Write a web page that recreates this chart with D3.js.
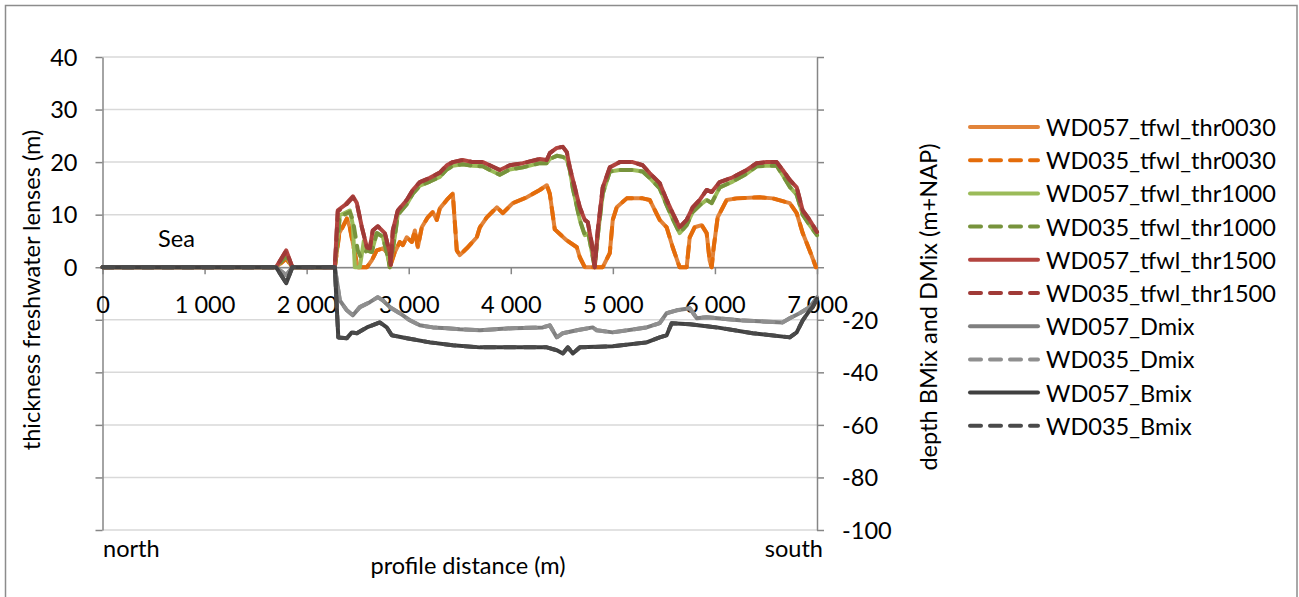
<!DOCTYPE html>
<html><head><meta charset="utf-8">
<script src="https://cdn.jsdelivr.net/npm/d3@7/dist/d3.min.js"></script>
<style>body{margin:0;background:#fff}</style></head>
<body><svg id="c" width="1299" height="597"></svg>
<script>
// ---------- DATA ----------
const xTicks = [0,1000,2000,3000,4000,5000,6000,7000];
const xTickLabels = ["0","1 000","2 000","3 000","4 000","5 000","6 000","7 000"];
const leftTicks = [-50,-40,-30,-20,-10,0,10,20,30,40];
const leftTickLabels = ["","","","","","0","10","20","30","40"];
const rightTicks = [-100,-80,-60,-40,-20,0,20,40,60,80];
const rightTickLabels = ["-100","-80","-60","-40","-20","","","","",""];
const seriesNames = ["WD057_tfwl_thr0030","WD035_tfwl_thr0030","WD057_tfwl_thr1000","WD035_tfwl_thr1000","WD057_tfwl_thr1500","WD035_tfwl_thr1500","WD057_Dmix","WD035_Dmix","WD057_Bmix","WD035_Bmix"];

// [distance (m), value]
const WD057_thr0030 = [[0,0],[1700,0],[1800,1.7],[1860,0],[2276,0],[2320,6.5],[2394,9.3],[2423,7.6],[2472,2.7],[2501,0],[2590,0],[2638,1.3],[2687,3.2],[2746,3.6],[2795,2.7],[2815,0],[2864,2.9],[2913,4.8],[2942,4.2],[2981,5.7],[3031,4.8],[3060,7],[3089,3.8],[3128,7.6],[3187,9.5],[3236,10.5],[3275,9],[3305,11.2],[3373,12.8],[3432,14],[3471,3.2],[3500,2.3],[3569,3.6],[3667,5.7],[3697,7.6],[3765,9.5],[3863,11.4],[3922,10.3],[4020,12.2],[4157,13.3],[4284,14.7],[4353,15.6],[4382,14],[4431,7.2],[4549,5.1],[4647,3.8],[4676,1.9],[4725,0],[4901,0],[4970,2.7],[4999,9],[5038,11.4],[5136,13.1],[5292,13.1],[5361,12.8],[5459,9],[5527,7.6],[5586,3.8],[5654,0],[5723,0],[5753,5.7],[5801,7.6],[5870,8],[5919,6.5],[5948,1.3],[5968,0],[5988,3.8],[6027,9.5],[6115,12.8],[6213,13.1],[6439,13.3],[6566,13.1],[6733,12.2],[6801,10.3],[6860,6.5],[6928,3.2],[6990,0]];
const WD035_thr0030 = [[0,0],[1700,0],[1800,1.6],[1860,0],[2276,0],[2320,6.3],[2394,9.2],[2423,7.5],[2472,2.6],[2501,0],[2590,0],[2638,1.3],[2687,3.2],[2746,3.6],[2795,2.7],[2815,0],[2864,2.9],[2913,4.8],[2942,4.2],[2981,5.7],[3031,4.8],[3060,7],[3089,3.8],[3128,7.6],[3187,9.5],[3236,10.5],[3275,9],[3305,11.2],[3373,12.8],[3432,14],[3471,3.2],[3500,2.3],[3569,3.6],[3667,5.7],[3697,7.6],[3765,9.5],[3863,11.4],[3922,10.3],[4020,12.2],[4157,13.3],[4284,14.7],[4353,15.6],[4382,14],[4431,7.2],[4549,5.1],[4647,3.8],[4676,1.9],[4725,0],[4901,0],[4970,2.7],[4999,9],[5038,11.4],[5136,13.1],[5292,13.1],[5361,12.8],[5459,9],[5527,7.6],[5586,3.8],[5654,0],[5723,0],[5753,5.7],[5801,7.6],[5870,8],[5919,6.5],[5948,1.3],[5968,0],[5988,3.8],[6027,9.5],[6115,12.8],[6213,13.1],[6439,13.3],[6566,13.1],[6733,12.2],[6801,10.3],[6860,6.5],[6928,3.2],[6990,0]];
const WD057_thr1000 = [[0,0],[1700,0],[1800,2.2],[1860,0],[2276,0],[2325,9.9],[2423,10.8],[2453,8],[2472,0],[2521,0],[2560,5],[2590,3.2],[2638,2.9],[2687,6.5],[2746,5.8],[2795,2],[2815,0],[2864,5.8],[2893,10],[2981,12],[3040,14],[3109,15.5],[3207,16.3],[3305,17.2],[3373,18.6],[3432,19.3],[3530,19.6],[3628,19.3],[3726,19.2],[3794,18.5],[3892,17.6],[3990,18.6],[4118,19],[4284,19.8],[4353,19.8],[4382,20.6],[4451,21.2],[4510,21],[4549,20.5],[4578,18.5],[4608,15],[4676,9],[4725,6.1],[4760,6.5],[4793,3],[4822,0],[4852,6],[4901,14],[4970,18.2],[5067,18.5],[5194,18.5],[5292,18.2],[5361,17],[5459,15],[5527,11.8],[5586,9.2],[5654,6.5],[5723,8],[5782,10.5],[5851,11.8],[5919,12.8],[5968,12.2],[6047,15.2],[6174,16.3],[6311,17.8],[6409,19.2],[6507,19.3],[6605,19.3],[6664,17.5],[6733,15.3],[6801,13.8],[6860,10],[6928,8],[7000,6.1]];
const WD035_thr1000 = [[0,0],[1700,0],[1800,2.1],[1860,0],[2276,0],[2325,9.6],[2423,10.5],[2453,9],[2501,3.2],[2530,1.9],[2590,3.2],[2638,2.9],[2687,6.5],[2746,5.8],[2795,2],[2815,0],[2864,5.8],[2893,10],[2981,12],[3040,14],[3109,15.5],[3207,16.3],[3305,17.2],[3373,18.6],[3432,19.3],[3530,19.6],[3628,19.3],[3726,19.2],[3794,18.5],[3892,17.6],[3990,18.6],[4118,19],[4284,19.8],[4353,19.8],[4382,20.6],[4451,21.2],[4510,21],[4549,20.5],[4578,18.5],[4608,15],[4676,9],[4725,6.1],[4760,6.5],[4793,3],[4822,0],[4852,6],[4901,14],[4970,18.2],[5067,18.5],[5194,18.5],[5292,18.2],[5361,17],[5459,15],[5527,11.8],[5586,9.2],[5654,6.5],[5723,8],[5782,10.5],[5851,11.8],[5919,12.8],[5968,12.2],[6047,15.2],[6174,16.3],[6311,17.8],[6409,19.2],[6507,19.3],[6605,19.3],[6664,17.5],[6733,15.3],[6801,13.8],[6860,10],[6928,8],[7000,6.1]];
const WD057_thr1500 = [[0,0],[1700,0],[1800,3.2],[1860,0],[2276,0],[2305,10.8],[2374,11.8],[2453,13.5],[2492,12.2],[2541,7.6],[2590,3.8],[2619,3.6],[2648,7],[2697,7.8],[2766,6.5],[2815,2.7],[2824,0.4],[2844,7],[2893,10.8],[2981,12.8],[3040,14.7],[3109,16.2],[3207,17],[3305,18],[3373,19.4],[3432,20],[3530,20.4],[3628,20],[3726,20],[3794,19.4],[3892,18.5],[3990,19.4],[4118,19.8],[4284,20.6],[4353,20.4],[4382,21.7],[4451,22.7],[4510,22.9],[4549,21.9],[4578,19],[4627,15.2],[4676,11.4],[4725,9],[4754,8.6],[4793,4.6],[4822,0],[4852,7],[4901,15.2],[4970,19],[5067,20],[5194,20],[5292,19.4],[5361,17.9],[5459,16],[5527,12.8],[5586,10.3],[5654,7.6],[5723,9],[5782,11.4],[5851,12.8],[5919,14.7],[5968,14.3],[6047,16.2],[6174,17.1],[6311,18.5],[6409,19.8],[6507,20],[6605,20],[6664,18.5],[6733,16.6],[6801,15.2],[6860,10.8],[6928,9],[7000,6.7]];
const WD035_thr1500 = [[0,0],[1700,0],[1800,3.1],[1860,0],[2276,0],[2305,10.6],[2374,11.6],[2453,13.3],[2492,12.1],[2541,7.6],[2590,3.8],[2619,3.6],[2648,7],[2697,7.8],[2766,6.5],[2815,2.7],[2824,0.4],[2844,7],[2893,10.8],[2981,12.8],[3040,14.7],[3109,16.2],[3207,17],[3305,18],[3373,19.4],[3432,20],[3530,20.4],[3628,20],[3726,20],[3794,19.4],[3892,18.5],[3990,19.4],[4118,19.8],[4284,20.6],[4353,20.4],[4382,21.7],[4451,22.7],[4510,22.9],[4549,21.9],[4578,19],[4627,15.2],[4676,11.4],[4725,9],[4754,8.6],[4793,4.6],[4822,0],[4852,7],[4901,15.2],[4970,19],[5067,20],[5194,20],[5292,19.4],[5361,17.9],[5459,16],[5527,12.8],[5586,10.3],[5654,7.6],[5723,9],[5782,11.4],[5851,12.8],[5919,14.7],[5968,14.3],[6047,16.2],[6174,17.1],[6311,18.5],[6409,19.8],[6507,20],[6605,20],[6664,18.5],[6733,16.6],[6801,15.2],[6860,10.8],[6928,9],[7000,6.7]];
const WD057_Dmix = [[0,0],[1700,0],[1800,-3],[1860,0],[2276,0],[2325,-12.6],[2394,-16.4],[2453,-18.3],[2521,-15.2],[2619,-13.3],[2697,-11.4],[2746,-12.6],[2815,-15.2],[2913,-17.5],[3011,-20.2],[3109,-22.1],[3236,-22.9],[3373,-23.2],[3500,-23.6],[3697,-24],[4020,-23.2],[4314,-22.9],[4382,-22.1],[4451,-26.7],[4510,-25.1],[4647,-24],[4803,-22.9],[4842,-24],[4999,-24.8],[5331,-22.9],[5459,-21.3],[5527,-17.5],[5625,-16.4],[5753,-15.6],[5821,-19.4],[5919,-19],[6243,-20.2],[6664,-21],[6733,-19.4],[6830,-17.5],[6928,-15.2],[7000,-11.5]];
const WD035_Dmix = [[0,0],[1700,0],[1800,-3],[1860,0],[2276,0],[2325,-12.6],[2394,-16.4],[2453,-18.3],[2521,-15.2],[2619,-13.3],[2697,-11.4],[2746,-12.6],[2815,-15.2],[2913,-17.5],[3011,-20.2],[3109,-22.1],[3236,-22.9],[3373,-23.2],[3500,-23.6],[3697,-24],[4020,-23.2],[4314,-22.9],[4382,-22.1],[4451,-26.7],[4510,-25.1],[4647,-24],[4803,-22.9],[4842,-24],[4999,-24.8],[5331,-22.9],[5459,-21.3],[5527,-17.5],[5625,-16.4],[5753,-15.6],[5821,-19.4],[5919,-19],[6243,-20.2],[6664,-21],[6733,-19.4],[6830,-17.5],[6928,-15.2],[7000,-11.5]];
const WD057_Bmix = [[0,0],[1700,0],[1800,-6.1],[1860,0],[2276,0],[2310,-26.7],[2394,-27],[2443,-24.8],[2492,-25.1],[2590,-22.9],[2717,-21],[2785,-22.9],[2834,-25.9],[2981,-27],[3207,-28.6],[3432,-29.7],[3697,-30.5],[4353,-30.5],[4451,-31.6],[4510,-32.8],[4559,-30.5],[4608,-32.8],[4676,-30.5],[4999,-30.1],[5331,-28.6],[5459,-26.7],[5527,-25.9],[5576,-21.3],[5753,-21.7],[6017,-22.9],[6370,-25.1],[6733,-26.7],[6801,-24.8],[6860,-20.2],[6928,-16.4],[6958,-15.2],[7000,-12]];
const WD035_Bmix = [[0,0],[1700,0],[1800,-6],[1860,0],[2276,0],[2310,-26.7],[2394,-27],[2443,-24.8],[2492,-25.1],[2590,-22.9],[2717,-21],[2785,-22.9],[2834,-25.9],[2981,-27],[3207,-28.6],[3432,-29.7],[3697,-30.5],[4353,-30.5],[4451,-31.6],[4510,-32.8],[4559,-30.5],[4608,-32.8],[4676,-30.5],[4999,-30.1],[5331,-28.6],[5459,-26.7],[5527,-25.9],[5576,-21.3],[5753,-21.7],[6017,-22.9],[6370,-25.1],[6733,-26.7],[6801,-24.8],[6860,-20.2],[6928,-16.4],[6958,-15.2],[7000,-12]];

const seriesData = [WD057_thr0030,WD035_thr0030,WD057_thr1000,WD035_thr1000,WD057_thr1500,WD035_thr1500,WD057_Dmix,WD035_Dmix,WD057_Bmix,WD035_Bmix];
const seriesAxis = ["L","L","L","L","L","L","R","R","R","R"];
const seriesColor = ["#E2843A","#E46C0A","#9BBB59","#77933C","#B3443F","#A03A37","#7F7F7F","#8F8F8F","#404040","#4A4A4A"];
const seriesDashed = [false,true,false,true,false,true,false,true,false,true];

// ---------- DRAW ----------
const FONT = "Lato, 'Open Sans', sans-serif";
const svg = d3.select("#c");
// outer frame
svg.append("rect").attr("x",5.5).attr("y",5.5).attr("width",1291.5).attr("height",600)
  .attr("fill","#fff").attr("stroke","#8c8c8c").attr("stroke-width",1.5);

// fit font size so legend text width matches the reference (~230px)
const probe = svg.append("text").attr("font-family",FONT).attr("font-size",20).text("WD057_tfwl_thr0030");
const w20 = probe.node().getComputedTextLength(); probe.remove();
const FS = 20*230/w20;

const x = d3.scaleLinear([0,7000],[102.5,817]);
const yL = d3.scaleLinear([-50,40],[530,57]);
const yR = d3.scaleLinear([-100,80],[530,57]);

// gridlines
svg.append("g").selectAll("line").data(leftTicks).join("line")
  .attr("x1",x(0)).attr("x2",x(7000)).attr("y1",d=>yL(d)).attr("y2",d=>yL(d))
  .attr("stroke","#d9d9d9").attr("stroke-width",1.5);

function styleAxis(g){
  g.select(".domain").attr("stroke","#868686").attr("stroke-width",1.5);
  g.selectAll(".tick line").attr("stroke","#868686").attr("stroke-width",1.5);
  g.selectAll("text").attr("font-family",FONT).attr("font-size",FS).attr("fill","#000");
}
const axL = svg.append("g").attr("transform",`translate(${x(0)},0)`)
  .call(d3.axisLeft(yL).tickValues(leftTicks).tickFormat((d,i)=>leftTickLabels[i]).tickSize(7).tickSizeOuter(0).tickPadding(18));
styleAxis(axL);
const axR = svg.append("g").attr("transform",`translate(${x(7000)},0)`)
  .call(d3.axisRight(yR).tickValues(rightTicks).tickFormat((d,i)=>rightTickLabels[i]).tickSize(7).tickSizeOuter(0).tickPadding(18));
styleAxis(axR);
axL.selectAll("text").attr("dy","0.35em");
axR.selectAll("text").attr("dy","0.35em");
const axX = svg.append("g").attr("transform",`translate(0,${yL(0)})`)
  .call(d3.axisBottom(x).tickValues(xTicks).tickFormat((d,i)=>xTickLabels[i]).tickSize(7).tickSizeOuter(0).tickPadding(22));
styleAxis(axX);

// series
seriesData.forEach((data,i)=>{
  const y = seriesAxis[i]==="L"?yL:yR;
  const line = d3.line().x(d=>x(d[0])).y(d=>y(d[1])).curve(d3.curveLinear);
  svg.append("path").datum(data).attr("d",line)
    .attr("fill","none").attr("stroke",seriesColor[i]).attr("stroke-width",4)
    .attr("stroke-linejoin","round").attr("stroke-linecap","round")
    .attr("stroke-dasharray",seriesDashed[i]?"11 9":null);
});

// text labels
function txt(t,xx,yy,anchor,rot){
  const e = svg.append("text").attr("font-family",FONT).attr("font-size",FS).attr("fill","#000")
    .attr("text-anchor",anchor||"start").attr("dominant-baseline","central").text(t);
  if(rot) e.attr("transform",`translate(${xx},${yy}) rotate(${rot})`);
  else e.attr("x",xx).attr("y",yy);
  return e;
}
txt("Sea",158,238);
txt("north",103,548);
txt("south",823,548,"end");
txt("profile distance (m)",468,565,"middle");
txt("thickness freshwater lenses (m)",31,290,"middle",-90);
txt("depth BMix and DMix (m+NAP)",928,307,"middle",-90);

// legend
const lg = svg.append("g");
seriesNames.forEach((n,i)=>{
  const yy = 127 + i*33.2;
  lg.append("line").attr("x1",970).attr("x2",1038).attr("y1",yy).attr("y2",yy)
    .attr("stroke",seriesColor[i]).attr("stroke-width",4).attr("stroke-linecap","round")
    .attr("stroke-dasharray",seriesDashed[i]?"11 9":null);
  lg.append("text").attr("x",1046).attr("y",yy).attr("dominant-baseline","central")
    .attr("font-family",FONT).attr("font-size",FS).attr("fill","#000").text(n);
});
</script></body></html>
